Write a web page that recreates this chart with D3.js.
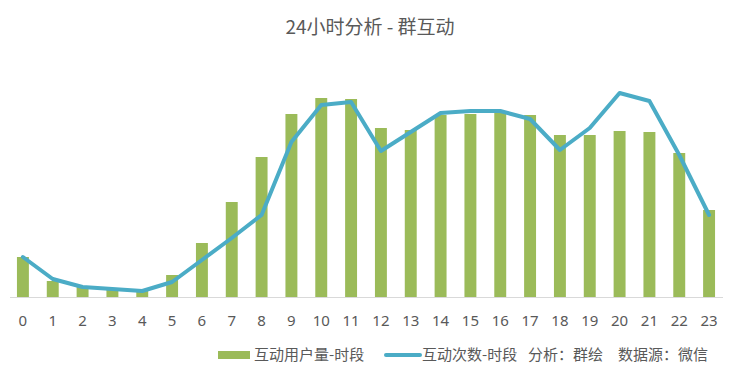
<!DOCTYPE html>
<html>
<head>
<meta charset="utf-8">
<script src="https://cdn.jsdelivr.net/npm/d3@7"></script>
<style>
  body { margin: 0; background: #fff; }
  text { font-family: "Noto Sans CJK SC", "Noto Sans", sans-serif; }
</style>
</head>
<body>
<svg id="chart" width="740" height="377"></svg>
<script>
// hours on the x axis
var hours = d3.range(24).map(String)
// 互动用户量-时段 (bars)
var users = [40, 16, 10, 7, 7, 22, 54, 95, 140, 183, 199, 198, 169, 167, 182, 183, 185, 182, 162, 162, 166, 165, 144, 87]
// 互动次数-时段 (line)
var counts = [40, 18, 10, 8, 6, 15, 37, 59, 82, 155, 192, 195, 146, 165, 184, 186, 186, 178, 147, 169, 204, 196, 142, 82]

var title = "24小时分析 - 群互动"
var legendNames = ["互动用户量-时段", "互动次数-时段"]
var notes = ["分析：群绘", "数据源：微信"]

var svg = d3.select("#chart")
var barColor = "#9bbb59", lineColor = "#4bacc6", textColor = "#595959"

var x = d3.scaleBand().domain(hours).range([8, 724]).paddingInner(0.6).paddingOuter(0.3)
var y = d3.scaleLinear().domain([0, 220]).range([297, 77])

svg.append("text")
  .attr("x", 370).attr("y", 34)
  .attr("text-anchor", "middle")
  .attr("font-size", 19)
  .attr("fill", textColor)
  .text(title)

svg.selectAll(".bar")
  .data(users)
  .enter().append("rect")
  .attr("class", "bar")
  .attr("x", function(d, i) { return x(hours[i]) })
  .attr("y", function(d) { return y(d) })
  .attr("width", x.bandwidth())
  .attr("height", function(d) { return y(0) - y(d) })
  .attr("fill", barColor)

// x axis
var axis = svg.append("g")
  .attr("transform", "translate(0," + y(0) + ")")
  .call(d3.axisBottom(x).tickSize(0).tickPadding(18))
axis.select(".domain").attr("stroke", "#d9d9d9").attr("d", "M10,0.5H723")
axis.selectAll("text")
  .attr("font-size", 15)
  .attr("fill", textColor)
  .style("font-family", "'Noto Sans', sans-serif")

var line = d3.line()
  .x(function(d, i) { return x(hours[i]) + x.bandwidth() / 2 })
  .y(function(d) { return y(d) })

svg.append("path")
  .datum(counts)
  .attr("d", line)
  .attr("fill", "none")
  .attr("stroke", lineColor)
  .attr("stroke-width", 4)
  .attr("stroke-linejoin", "round")
  .attr("stroke-linecap", "round")

// legend
var ly = 355
svg.append("rect")
  .attr("x", 218).attr("y", ly - 4)
  .attr("width", 32).attr("height", 8)
  .attr("fill", barColor)
svg.append("text")
  .attr("x", 254).attr("y", ly + 5)
  .attr("font-size", 15).attr("fill", textColor)
  .text(legendNames[0])
svg.append("line")
  .attr("x1", 386).attr("x2", 420)
  .attr("y1", ly).attr("y2", ly)
  .attr("stroke", lineColor).attr("stroke-width", 4)
  .attr("stroke-linecap", "round")
svg.append("text")
  .attr("x", 422).attr("y", ly + 5)
  .attr("font-size", 15).attr("fill", textColor)
  .text(legendNames[1])
svg.append("text")
  .attr("x", 528).attr("y", ly + 5)
  .attr("font-size", 15).attr("fill", textColor)
  .text(notes[0])
svg.append("text")
  .attr("x", 618).attr("y", ly + 5)
  .attr("font-size", 15).attr("fill", textColor)
  .text(notes[1])
</script>
</body>
</html>
